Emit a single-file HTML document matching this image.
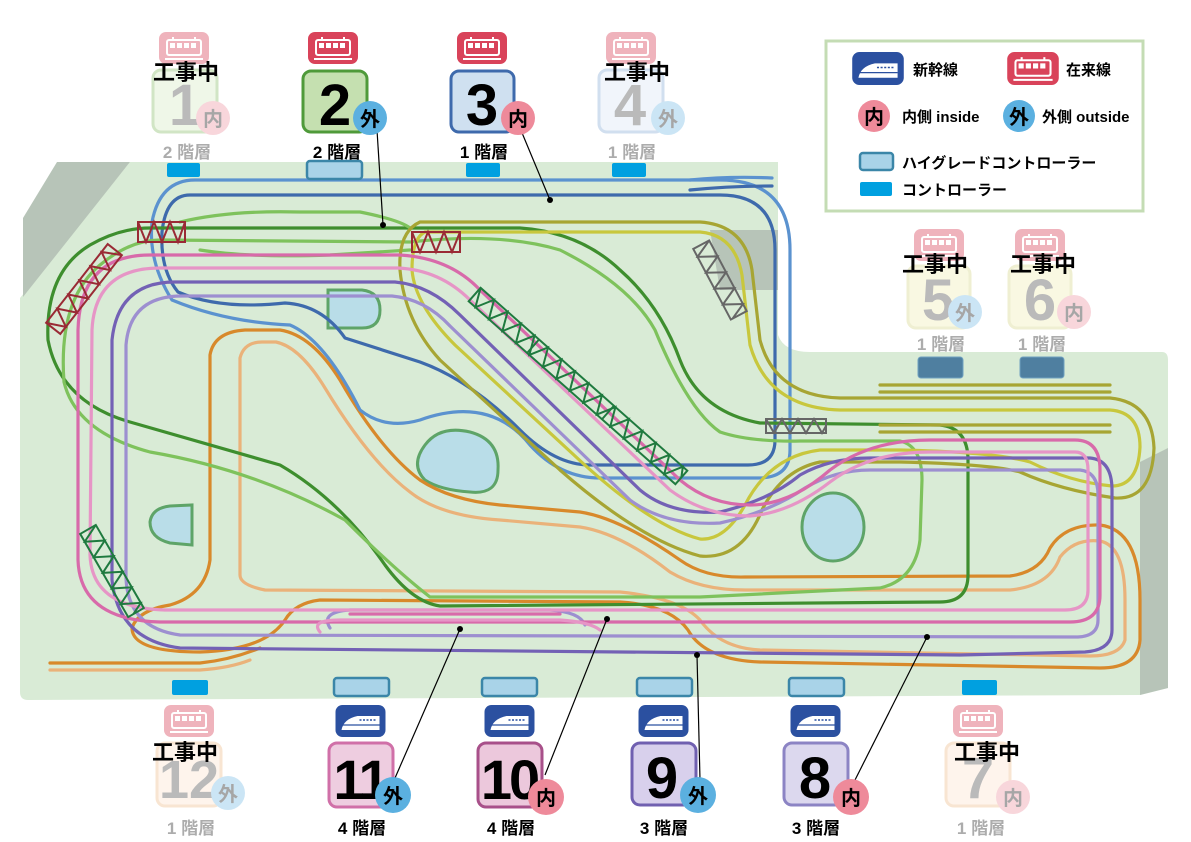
<!DOCTYPE html>
<html><head><meta charset="utf-8">
<style>
html,body{margin:0;padding:0;background:#fff;}
svg{display:block;}
text{font-family:"Liberation Sans","Noto Sans CJK JP",sans-serif;font-weight:bold;}
.t{fill:none;stroke-width:3.2;stroke-linejoin:round;stroke-linecap:round;}
</style></head>
<body>
<svg width="1191" height="842" viewBox="0 0 1191 842" xmlns="http://www.w3.org/2000/svg">
<defs>
<symbol id="tr" viewBox="0 0 50 32">
 <rect x="0" y="0" width="50" height="32" rx="7" fill="#d9435a"/>
 <rect x="8" y="8" width="34" height="15" rx="2" fill="none" stroke="#fff" stroke-width="2"/>
 <rect x="11" y="11" width="5" height="5" fill="#fff"/><rect x="18" y="11" width="5" height="5" fill="#fff"/>
 <rect x="25" y="11" width="5" height="5" fill="#fff"/><rect x="32" y="11" width="5" height="5" fill="#fff"/>
 <line x1="14" y1="5" x2="14" y2="8" stroke="#fff" stroke-width="2"/><line x1="36" y1="5" x2="36" y2="8" stroke="#fff" stroke-width="2"/>
 <line x1="6" y1="27" x2="44" y2="27" stroke="#fff" stroke-width="2"/>
</symbol>
<symbol id="sk" viewBox="0 0 50 32">
 <rect x="0" y="0" width="50" height="32" rx="7" fill="#2b50a0"/>
 <path d="M6,25 Q8,14 22,11 L44,11 L44,25 Z" fill="#fff"/>
 <path d="M24,15 L40,15" stroke="#2b50a0" stroke-width="1.5" stroke-dasharray="2 1.5"/>
 <line x1="6" y1="20" x2="44" y2="20" stroke="#2b50a0" stroke-width="1.2"/>
</symbol>
</defs>

<!-- board -->
<path d="M130,162 L778,162 L778,335 Q784,352 810,352 L1162,352 Q1168,352 1168,360 L1168,688 L1140,695 L28,700 Q20,700 20,692 L20,298 Z" fill="#d9ebd6"/>
<polygon points="23,218 57,162 130,162 23,297" fill="#b7c4b8"/>
<polygon points="710,230 778,230 778,290 720,290" fill="#b7c4b8"/>
<polygon points="1140,462 1168,448 1168,688 1140,695" fill="#b7c4b8"/>

<!-- ponds -->
<path d="M328,290 L362,290 Q380,292 380,310 Q380,328 362,328 L328,328 Z" fill="#b9dde8" stroke="#5ea468" stroke-width="3"/>
<path d="M425,445 Q440,425 470,432 Q500,440 498,470 Q498,495 470,492 Q440,490 425,480 Q410,465 425,445 Z" fill="#b9dde8" stroke="#5ea468" stroke-width="3"/>
<ellipse cx="833" cy="527" rx="31" ry="34" fill="#b9dde8" stroke="#5ea468" stroke-width="3"/>
<path d="M192,505 L192,545 L170,543 Q150,538 150,522 Q152,508 170,506 Z" fill="#b9dde8" stroke="#5ea468" stroke-width="3"/>

<!-- tracks -->
<!-- orange -->
<path class="t" stroke="#d8892b" d="M210,560 L210,355 Q214,332 245,330 L280,330 Q312,335 340,380 Q380,450 420,480 Q450,500 500,505 L580,512 Q620,518 680,560 Q705,578 745,577 L1010,576 Q1040,572 1050,548 Q1065,524 1100,525 Q1140,530 1140,600 L1140,640 Q1138,668 1100,668 L760,662 Q705,660 688,630 Q670,605 620,602 L320,600 Q295,603 285,620 Q265,650 200,652 Q132,652 132,628 Q138,610 170,605 Q205,595 210,560"/>
<path class="t" stroke="#d8892b" d="M50,663 L200,663 Q230,660 260,648"/>
<!-- light orange -->
<path class="t" stroke="#eab27a" d="M240,575 L240,358 Q244,342 262,342 L276,342 Q300,347 325,388 Q370,462 410,492 Q440,516 500,520 L580,527 Q620,533 670,572 Q700,590 745,590 L1010,590 Q1050,586 1060,557 Q1075,538 1100,541 Q1125,546 1125,600 L1125,640 Q1120,656 1090,656 L760,650 Q720,648 700,620 Q680,598 620,592 L265,590 Q240,585 240,575"/>
<path class="t" stroke="#eab27a" d="M50,670 L200,670 Q230,668 250,660"/>
<!-- blue light -->
<path class="t" stroke="#5b92cf" d="M195,180 L720,180 Q790,180 790,250 L790,450 Q790,478 758,478 L600,478 Q560,478 530,445 Q490,395 420,420 Q385,430 360,410 Q325,340 290,325 Q225,322 172,300 Q148,262 152,222 Q160,180 195,180"/>
<path class="t" stroke="#5b92cf" d="M690,180 Q730,176 772,178"/>
<!-- blue dark -->
<path class="t" stroke="#3e6aac" d="M190,195 L720,195 Q775,195 775,250 L775,440 Q775,465 748,465 L590,465 Q555,465 520,430 Q470,380 420,362 L345,338 Q322,305 285,303 Q220,310 178,292 Q160,270 162,232 Q166,195 190,195"/>
<path class="t" stroke="#3e6aac" d="M690,190 Q730,186 772,186"/>
<!-- dark green -->
<path class="t" stroke="#3e8e2e" d="M150,228 L520,228 Q580,232 620,270 Q660,305 680,360 Q700,412 760,423 L940,425 Q968,428 968,460 L968,575 Q968,602 940,602 L440,606 Q412,602 385,565 Q340,500 280,465 Q200,442 130,422 Q60,402 48,340 Q45,272 90,245 Q120,228 150,228"/>
<!-- light green -->
<path class="t" stroke="#7ec25c" d="M160,240 L410,242 Q500,232 560,250 Q630,285 655,330 Q688,410 720,432 Q750,442 800,441 L900,441 Q922,446 922,480 L920,540 Q915,580 880,588 L700,597 L430,597 Q395,570 345,520 Q255,470 150,452 Q76,432 64,382 Q58,300 100,265 Q130,240 160,240"/>
<path class="t" stroke="#7ec25c" d="M180,222 Q230,210 300,212 L360,212 Q400,220 410,228"/>
<path class="t" stroke="#7ec25c" d="M200,250 Q250,258 330,255 L410,250"/>
<!-- olive -->
<path class="t" stroke="#a7a533" d="M420,222 L700,222 Q745,225 752,270 L760,340 Q775,396 840,398 L1110,398 Q1152,402 1154,448 Q1152,500 1115,498 Q1060,490 1020,472 Q990,464 900,462 L820,462 Q782,470 762,510 Q742,560 700,556 Q640,540 560,470 L440,360 Q405,322 400,270 Q398,232 420,222"/>
<path class="t" stroke="#a7a533" d="M880,385 L1110,385 M880,392 L1110,392 M880,425 L1110,425 M880,432 L1110,432"/>
<!-- yellow green -->
<path class="t" stroke="#c8c73d" d="M425,232 L700,232 Q735,235 742,275 L750,345 Q768,408 840,410 L1110,410 Q1140,412 1140,447 Q1138,486 1112,486 Q1070,482 1030,462 Q995,452 900,450 L820,450 Q770,456 745,505 Q725,541 700,539 Q650,526 575,456 L455,345 Q415,305 412,270 Q412,238 425,232"/>
<!-- purple -->
<path class="t" stroke="#7361b5" d="M175,282 L395,282 Q430,285 460,315 L640,490 Q670,515 720,512 Q770,500 800,475 Q830,458 870,458 L1090,458 Q1112,460 1112,490 L1112,630 Q1112,650 1085,652 L960,655 L180,648 Q118,640 112,580 L112,340 Q118,282 175,282"/>
<!-- lavender -->
<path class="t" stroke="#9d8fd0" d="M182,296 L392,296 Q425,299 450,326 L630,500 Q665,526 720,523 Q770,512 805,488 Q835,470 870,470 L1080,470 Q1098,472 1098,495 L1098,620 Q1098,636 1078,637 L180,635 Q128,628 126,578 L126,345 Q130,296 182,296"/>
<path class="t" stroke="#9d8fd0" d="M330,628 Q320,612 350,610 L550,610 Q580,612 585,625"/>
<!-- pink -->
<path class="t" stroke="#d86aaa" d="M150,255 L400,255 Q450,258 480,290 L680,480 Q710,505 750,505 Q790,505 830,470 Q870,440 930,440 L1075,440 Q1100,440 1100,470 L1100,595 Q1100,622 1070,622 L160,622 Q80,620 78,560 L78,330 Q80,255 150,255"/>
<path class="t" stroke="#d86aaa" d="M350,614 L560,614"/>
<!-- light pink -->
<path class="t" stroke="#e695c6" d="M160,268 L398,268 Q440,270 470,300 L670,490 Q705,516 750,516 Q790,513 830,482 Q870,452 930,452 L1075,452 Q1088,452 1088,470 L1088,590 Q1088,610 1065,610 L165,610 Q92,608 90,555 L92,330 Q95,268 160,268"/>
<path class="t" stroke="#e695c6" d="M320,632 Q310,620 340,620 L560,620 Q590,622 600,630"/>

<!-- bridges -->
<g fill="none" stroke="#9a2a35" stroke-width="2">
 <rect x="138" y="222" width="47" height="20"/><polyline points="138,222 146,242 154,222 162,242 170,222 178,242 185,222"/>
 <rect x="412" y="232" width="48" height="20"/><polyline points="412,232 420,252 428,232 436,252 444,232 452,252 460,232"/>
 <g transform="translate(84,289) rotate(-52)"><rect x="-50" y="-9" width="100" height="18"/><polyline points="-50,-9 -41,9 -32,-9 -23,9 -14,-9 -5,9 4,-9 13,9 22,-9 31,9 40,-9 50,9"/></g>
</g>
<g fill="none" stroke="#1f7a3f" stroke-width="2">
 <g transform="translate(578,386) rotate(41.5)"><rect x="-138" y="-9" width="276" height="18"/><polyline points="-138,-9 -129,9 -120,-9 -111,9 -102,-9 -93,9 -84,-9 -75,9 -66,-9 -57,9 -48,-9 -39,9 -30,-9 -21,9 -12,-9 -3,9 6,-9 15,9 24,-9 33,9 42,-9 51,9 60,-9 69,9 78,-9 87,9 96,-9 105,9 114,-9 123,9 132,-9 138,0"/><line x1="-60" y1="-9" x2="-60" y2="9"/><line x1="40" y1="-9" x2="40" y2="9"/></g>
 <g transform="translate(112,571) rotate(60)"><rect x="-48" y="-9" width="96" height="18"/><polyline points="-48,-9 -39,9 -30,-9 -21,9 -12,-9 -3,9 6,-9 15,9 24,-9 33,9 42,-9 48,3"/></g>
</g>
<g fill="none" stroke="#666" stroke-width="2">
 <g transform="translate(720,280) rotate(62)"><rect x="-40" y="-9" width="80" height="18"/><polyline points="-40,-9 -31,9 -22,-9 -13,9 -4,-9 5,9 14,-9 23,9 32,-9 40,7"/></g>
 <rect x="766" y="419" width="60" height="14"/><polyline points="766,419 774,433 782,419 790,433 798,419 806,433 814,419 822,433 826,426"/>
</g>

<!-- controllers -->
<g fill="#00a0e0">
 <rect x="167" y="163" width="33" height="14" rx="2"/><rect x="466" y="163" width="34" height="14" rx="2"/><rect x="612" y="163" width="34" height="14" rx="2"/>
 <rect x="172" y="680" width="36" height="15" rx="2"/><rect x="962" y="680" width="35" height="15" rx="2"/>
</g>
<g fill="#a9d3e8" stroke="#3b86a8" stroke-width="2.5">
 <rect x="307" y="161" width="55" height="18" rx="3"/>
 <rect x="334" y="678" width="55" height="18" rx="3"/><rect x="482" y="678" width="55" height="18" rx="3"/>
 <rect x="637" y="678" width="55" height="18" rx="3"/><rect x="789" y="678" width="55" height="18" rx="3"/>
</g>
<g fill="#4f7fa0" stroke="#6fa0c0" stroke-width="1">
 <rect x="918" y="357" width="45" height="21" rx="3"/><rect x="1020" y="357" width="44" height="21" rx="3"/>
</g>

<!-- leader lines -->
<g stroke="#000" stroke-width="1.2" fill="none">
 <line x1="377" y1="130" x2="383" y2="225"/><line x1="520" y1="128" x2="550" y2="200"/>
 <line x1="395" y1="778" x2="460" y2="629"/><line x1="545" y1="775" x2="607" y2="619"/>
 <line x1="700" y1="780" x2="697" y2="655"/><line x1="855" y1="780" x2="927" y2="637"/>
</g>
<g fill="#000"><circle cx="383" cy="225" r="3"/><circle cx="550" cy="200" r="3"/><circle cx="460" cy="629" r="3"/><circle cx="607" cy="619" r="3"/><circle cx="697" cy="655" r="3"/><circle cx="927" cy="637" r="3"/></g>

<!-- top stations -->
<g opacity="0.4">
 <use href="#tr" x="159" y="32" width="50" height="32"/>
 <rect x="153" y="70" width="64" height="62" rx="8" fill="#d9ecc8" stroke="#8fc070" stroke-width="3"/>
 <text x="185" y="125" font-size="58" text-anchor="middle" fill="#555">1</text>
 <circle cx="213" cy="118" r="17" fill="#ee9aa8"/><text x="213" y="126" font-size="20" text-anchor="middle" fill="#222">内</text>
 <text x="187" y="158" font-size="17" text-anchor="middle" fill="#333">2 階層</text>
</g>
<text x="186" y="80" font-size="22" text-anchor="middle" fill="#000">工事中</text>

<use href="#tr" x="308" y="32" width="50" height="32"/>
<rect x="303" y="71" width="64" height="61" rx="8" fill="#c5e0b0" stroke="#4f9a3a" stroke-width="3"/>
<text x="335" y="125" font-size="58" text-anchor="middle" fill="#000">2</text>
<circle cx="370" cy="118" r="17" fill="#5bb0e0"/><text x="370" y="126" font-size="20" text-anchor="middle" fill="#000">外</text>
<text x="337" y="158" font-size="17" text-anchor="middle" fill="#000">2 階層</text>

<use href="#tr" x="457" y="32" width="50" height="32"/>
<rect x="451" y="71" width="63" height="61" rx="8" fill="#cfe0f0" stroke="#3e6aac" stroke-width="3"/>
<text x="482" y="125" font-size="58" text-anchor="middle" fill="#000">3</text>
<circle cx="518" cy="118" r="17" fill="#ee8a9a"/><text x="518" y="126" font-size="20" text-anchor="middle" fill="#000">内</text>
<text x="484" y="158" font-size="17" text-anchor="middle" fill="#000">1 階層</text>

<g opacity="0.4">
 <use href="#tr" x="606" y="32" width="50" height="32"/>
 <rect x="599" y="70" width="64" height="62" rx="8" fill="#dde8f6" stroke="#8fb0d8" stroke-width="3"/>
 <text x="630" y="125" font-size="58" text-anchor="middle" fill="#555">4</text>
 <circle cx="668" cy="118" r="17" fill="#80c0e8"/><text x="668" y="126" font-size="20" text-anchor="middle" fill="#222">外</text>
 <text x="632" y="158" font-size="17" text-anchor="middle" fill="#333">1 階層</text>
</g>
<text x="637" y="80" font-size="22" text-anchor="middle" fill="#000">工事中</text>

<!-- right stations -->
<g opacity="0.4">
 <use href="#tr" x="914" y="229" width="50" height="32"/>
 <rect x="908" y="266" width="62" height="62" rx="8" fill="#f2f0b8" stroke="#d8d890" stroke-width="3"/>
 <text x="938" y="320" font-size="58" text-anchor="middle" fill="#555">5</text>
 <circle cx="965" cy="312" r="17" fill="#80c0e8"/><text x="965" y="320" font-size="20" text-anchor="middle" fill="#222">外</text>
 <text x="941" y="350" font-size="17" text-anchor="middle" fill="#333">1 階層</text>
 <use href="#tr" x="1015" y="229" width="50" height="32"/>
 <rect x="1009" y="266" width="62" height="62" rx="8" fill="#f2f0b8" stroke="#d8d890" stroke-width="3"/>
 <text x="1040" y="320" font-size="58" text-anchor="middle" fill="#555">6</text>
 <circle cx="1074" cy="312" r="17" fill="#ee9aa8"/><text x="1074" y="320" font-size="20" text-anchor="middle" fill="#222">内</text>
 <text x="1042" y="350" font-size="17" text-anchor="middle" fill="#333">1 階層</text>
</g>
<text x="935" y="272" font-size="22" text-anchor="middle" fill="#000">工事中</text>
<text x="1043" y="272" font-size="22" text-anchor="middle" fill="#000">工事中</text>

<!-- bottom stations -->
<g opacity="0.4">
 <use href="#tr" x="164" y="705" width="50" height="32"/>
 <rect x="157" y="743" width="64" height="63" rx="8" fill="#fde4d0" stroke="#f0c090" stroke-width="3"/>
 <text x="189" y="798" font-size="54" text-anchor="middle" fill="#555">12</text>
 <circle cx="228" cy="793" r="17" fill="#80c0e8"/><text x="228" y="801" font-size="20" text-anchor="middle" fill="#222">外</text>
 <text x="191" y="834" font-size="17" text-anchor="middle" fill="#333">1 階層</text>
</g>
<text x="185" y="760" font-size="22" text-anchor="middle" fill="#000">工事中</text>

<use href="#sk" x="335" y="705" width="51" height="32"/>
<rect x="329" y="743" width="64" height="64" rx="8" fill="#eecde0" stroke="#d070a8" stroke-width="3"/>
<text x="360" y="799" font-size="56" text-anchor="middle" fill="#000" letter-spacing="-3">11</text>
<circle cx="393" cy="795" r="18" fill="#5bb0e0"/><text x="393" y="803" font-size="20" text-anchor="middle" fill="#000">外</text>
<text x="362" y="834" font-size="17" text-anchor="middle" fill="#000">4 階層</text>

<use href="#sk" x="484" y="705" width="51" height="32"/>
<rect x="478" y="743" width="64" height="64" rx="8" fill="#ecc8dc" stroke="#a8508a" stroke-width="3"/>
<text x="509" y="799" font-size="56" text-anchor="middle" fill="#000" letter-spacing="-3">10</text>
<circle cx="546" cy="797" r="18" fill="#ee8a9a"/><text x="546" y="805" font-size="20" text-anchor="middle" fill="#000">内</text>
<text x="511" y="834" font-size="17" text-anchor="middle" fill="#000">4 階層</text>

<use href="#sk" x="638" y="705" width="51" height="32"/>
<rect x="632" y="743" width="64" height="62" rx="8" fill="#d8d0ec" stroke="#7060b0" stroke-width="3"/>
<text x="662" y="798" font-size="58" text-anchor="middle" fill="#000">9</text>
<circle cx="698" cy="795" r="18" fill="#5bb0e0"/><text x="698" y="803" font-size="20" text-anchor="middle" fill="#000">外</text>
<text x="664" y="834" font-size="17" text-anchor="middle" fill="#000">3 階層</text>

<use href="#sk" x="790" y="705" width="51" height="32"/>
<rect x="784" y="743" width="64" height="62" rx="8" fill="#dcd8ee" stroke="#8c84c4" stroke-width="3"/>
<text x="815" y="798" font-size="58" text-anchor="middle" fill="#000">8</text>
<circle cx="851" cy="797" r="18" fill="#ee8a9a"/><text x="851" y="805" font-size="20" text-anchor="middle" fill="#000">内</text>
<text x="816" y="834" font-size="17" text-anchor="middle" fill="#000">3 階層</text>

<g opacity="0.4">
 <use href="#tr" x="953" y="705" width="50" height="32"/>
 <rect x="946" y="743" width="64" height="63" rx="8" fill="#fde4d0" stroke="#f0c090" stroke-width="3"/>
 <text x="978" y="798" font-size="58" text-anchor="middle" fill="#555">7</text>
 <circle cx="1013" cy="797" r="17" fill="#ee9aa8"/><text x="1013" y="805" font-size="20" text-anchor="middle" fill="#222">内</text>
 <text x="981" y="834" font-size="17" text-anchor="middle" fill="#333">1 階層</text>
</g>
<text x="987" y="760" font-size="22" text-anchor="middle" fill="#000">工事中</text>

<!-- legend -->
<rect x="826" y="41" width="317" height="170" fill="#fff" stroke="#c4dcb4" stroke-width="3"/>
<use href="#sk" x="852" y="52" width="52" height="33"/>
<text x="913" y="75" font-size="15" fill="#000">新幹線</text>
<use href="#tr" x="1007" y="52" width="52" height="33"/>
<text x="1066" y="75" font-size="15" fill="#000">在来線</text>
<circle cx="874" cy="116" r="16" fill="#ee8a9a"/><text x="874" y="124" font-size="20" text-anchor="middle" fill="#000">内</text>
<text x="902" y="122" font-size="15" fill="#000">内側 inside</text>
<circle cx="1019" cy="116" r="16" fill="#5bb0e0"/><text x="1019" y="124" font-size="20" text-anchor="middle" fill="#000">外</text>
<text x="1042" y="122" font-size="15" fill="#000">外側 outside</text>
<rect x="860" y="153" width="33" height="17" rx="3" fill="#a9d3e8" stroke="#3b86a8" stroke-width="2.5"/>
<text x="902" y="168" font-size="15" fill="#000">ハイグレードコントローラー</text>
<rect x="860" y="182" width="32" height="14" rx="2" fill="#00a0e0"/>
<text x="902" y="195" font-size="15" fill="#000">コントローラー</text>
</svg>
</body></html>
